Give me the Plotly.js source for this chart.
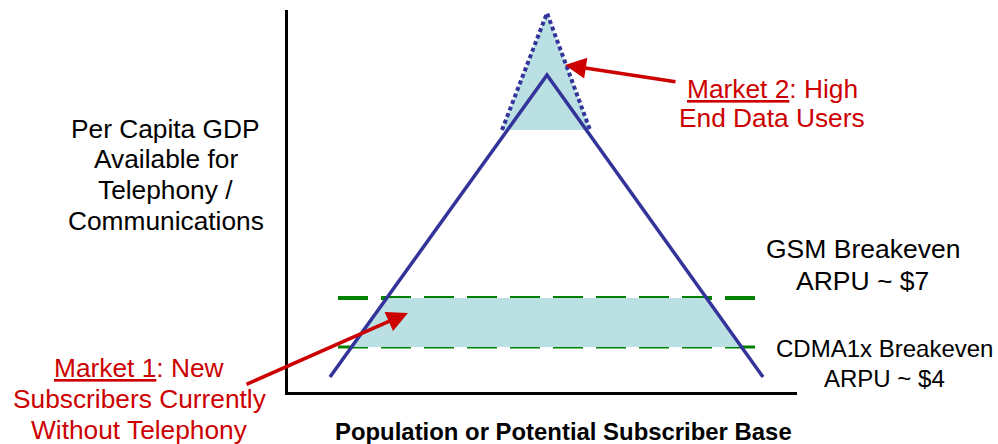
<!DOCTYPE html>
<html>
<head>
<meta charset="utf-8">
<script src="https://cdn.plot.ly/plotly-3.0.1.min.js"></script>
<style>
  html, body { margin: 0; padding: 0; background: #ffffff; }
  #chart { width: 998px; height: 444px; }
</style>
</head>
<body>
<div id="chart"></div>
<script>
// ---- Data (x: population, y: per-capita GDP, arbitrary units) ----
const triangleX = [42, 259, 475];          // market pyramid (solid)
const triangleY = [15, 317, 15];
const peakX = [214, 259, 302];             // high-end extension (dotted)
const peakY = [262, 379, 262];
const peakFillX = [214, 259, 302, 214];    // Market 2 shaded tip
const peakFillY = [262, 379, 262, 262];
const bandX = [64, 99, 418, 454, 64];      // Market 1 shaded band
const bandY = [45, 94, 94, 45, 45];
const breakevenX = [50, 475];              // breakeven lines extent
const gsmBreakevenY = [94, 94];            // GSM breakeven ARPU ~ $7
const cdmaBreakevenY = [45, 45];           // CDMA1x breakeven ARPU ~ $4
const arrow2Head = [277, 327], arrow2Tail = [389, 310];
const arrow1Head = [120, 79],  arrow1Tail = [-43, 7];

const yLabelLines = ['Per Capita GDP', 'Available for', 'Telephony /', 'Communications'];
const market2Lines = ['<span style="text-decoration:underline">Market 2</span>: High', 'End Data Users'];
const market1Lines = ['<span style="text-decoration:underline">Market 1</span>: New', 'Subscribers Currently', 'Without Telephony'];
const gsmLines = ['GSM Breakeven', 'ARPU ~ $7'];
const cdmaLines = ['CDMA1x Breakeven', 'ARPU ~ $4'];
const xTitle = 'Population or Potential Subscriber Base';

// ---- Styling ----
const BLUE = '#333399', GREEN = '#008000', FILL = 'rgb(187,224,227)', RED = '#cc0000';
const FONT = 'Liberation Sans, Arial, Helvetica, sans-serif';
const M = {l: 288, r: 201, t: 10, b: 52};
const PW = 998 - M.l - M.r, PH = 444 - M.t - M.b;
const pxX = x => (x - M.l) / PW;
const pxY = y => (444 - M.b - y) / PH;

const traces = [
  {x: breakevenX, y: gsmBreakevenY, mode: 'lines', line: {color: GREEN, width: 4, dash: '30px,13px'}},
  {x: breakevenX, y: cdmaBreakevenY, mode: 'lines', line: {color: GREEN, width: 3, dash: '30px,13px'}},
  {x: peakFillX, y: peakFillY, mode: 'lines', fill: 'toself', fillcolor: FILL, line: {width: 0}},
  {x: bandX, y: bandY, mode: 'lines', fill: 'toself', fillcolor: FILL, line: {width: 0}},
  {x: peakX, y: peakY, mode: 'lines', line: {color: BLUE, width: 4, dash: '4px,3px'}},
  {x: triangleX, y: triangleY, mode: 'lines', line: {color: BLUE, width: 3.5}}
];

const annotations = [];
function lbl(text, cx, baseline, size, color, bold) {
  annotations.push({
    xref: 'paper', yref: 'paper', x: pxX(cx), y: pxY(baseline - 0.3465 * size),
    xanchor: 'center', yanchor: 'middle', showarrow: false,
    text: bold ? '<b>' + text + '</b>' : text,
    font: {family: FONT, size: size, color: color}
  });
}
const ylBase = [137.7, 168.5, 199.3, 230];
yLabelLines.forEach((t, i) => lbl(t, 165.5, ylBase[i], 26.3, '#000000'));
const m2Base = [98.3, 126.7];
market2Lines.forEach((t, i) => lbl(t, 772, m2Base[i], 26.3, RED));
const m1Base = [377, 408, 439.5];
market1Lines.forEach((t, i) => lbl(t, 139.5, m1Base[i], 26.3, RED));
const gsmBase = [258, 290.5];
const gsmCx = [863, 862];
gsmLines.forEach((t, i) => lbl(t, gsmCx[i], gsmBase[i], 26.5, '#000000'));
const cdmaBase = [356.7, 386.7];
const cdmaCx = [884, 884];
cdmaLines.forEach((t, i) => lbl(t, cdmaCx[i], cdmaBase[i], 24, '#000000'));
lbl(xTitle, 563, 439.3, 23.9, '#000000', true);

[[arrow2Head, arrow2Tail], [arrow1Head, arrow1Tail]].forEach(([h, t]) => {
  annotations.push({
    xref: 'x', yref: 'y', axref: 'x', ayref: 'y',
    x: h[0], y: h[1], ax: t[0], ay: t[1], text: '',
    showarrow: true, arrowhead: 2, arrowsize: 1.2, arrowwidth: 3.5,
    arrowcolor: RED, standoff: 0
  });
});

const axisCommon = {
  showline: true, linewidth: 3, linecolor: '#000000', showgrid: false, zeroline: false,
  showticklabels: false, ticks: '', fixedrange: true
};

const layout = {
  width: 998, height: 444, margin: M,
  paper_bgcolor: '#ffffff', plot_bgcolor: '#ffffff',
  showlegend: false,
  xaxis: Object.assign({range: [0, PW]}, axisCommon),
  yaxis: Object.assign({range: [0, PH]}, axisCommon),
  annotations: annotations
};

Plotly.newPlot('chart', traces, layout, {staticPlot: true, displayModeBar: false});
</script>
</body>
</html>
